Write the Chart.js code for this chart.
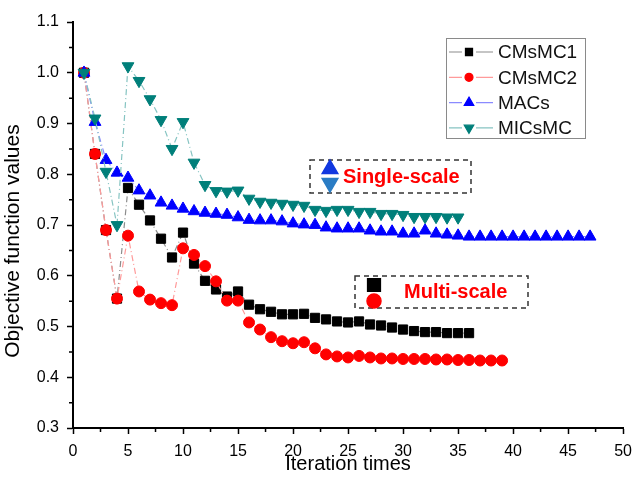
<!DOCTYPE html>
<html>
<head>
<meta charset="utf-8">
<script src="https://cdn.jsdelivr.net/npm/chart.js@4.4.1/dist/chart.umd.min.js"></script>
<style>
  html, body { margin: 0; padding: 0; background: #fff; }
</style>
</head>
<body>
<canvas id="myChart" width="640" height="481"></canvas>
<script>
// values, iteration index starts at 1
const cmsmc1 = [1.0, 0.84, 0.69, 0.555, 0.773, 0.74, 0.709, 0.673, 0.636, 0.685,
  0.624, 0.59, 0.573, 0.559, 0.569, 0.543, 0.534, 0.529, 0.524, 0.524,
  0.525, 0.517, 0.514, 0.51, 0.508, 0.51, 0.504, 0.502, 0.498, 0.494,
  0.491, 0.489, 0.489, 0.487, 0.487, 0.487];
const cmsmc2 = [1.0, 0.84, 0.69, 0.555, 0.679, 0.569, 0.553, 0.546, 0.542, 0.654,
  0.641, 0.619, 0.589, 0.551, 0.551, 0.508, 0.494, 0.479, 0.471, 0.467,
  0.469, 0.457, 0.445, 0.441, 0.439, 0.442, 0.439, 0.437, 0.437, 0.436,
  0.436, 0.436, 0.435, 0.435, 0.434, 0.434, 0.433, 0.433, 0.433];
const macs = [1.0, 0.903, 0.828, 0.803, 0.793, 0.768, 0.758, 0.744, 0.738, 0.732,
  0.727, 0.724, 0.722, 0.72, 0.715, 0.71, 0.709, 0.709, 0.707, 0.703,
  0.701, 0.7, 0.695, 0.693, 0.693, 0.693, 0.689, 0.687, 0.687, 0.683,
  0.683, 0.689, 0.683, 0.681, 0.679, 0.677, 0.677, 0.677, 0.677, 0.677,
  0.677, 0.677, 0.677, 0.677, 0.677, 0.677, 0.677];
const micsmc = [1.0, 0.91, 0.805, 0.70, 1.013, 0.984, 0.948, 0.907, 0.85, 0.903,
  0.823, 0.779, 0.767, 0.766, 0.768, 0.752, 0.746, 0.744, 0.742, 0.74,
  0.738, 0.73, 0.728, 0.73, 0.73, 0.726, 0.726, 0.722, 0.722, 0.72,
  0.716, 0.716, 0.716, 0.715, 0.715];

const seriesNames = ['CMsMC1', 'CMsMC2', 'MACs', 'MICsMC'];
const xTicks = [0, 5, 10, 15, 20, 25, 30, 35, 40, 45, 50];
const yTicks = [0.3, 0.4, 0.5, 0.6, 0.7, 0.8, 0.9, 1.0, 1.1];

const FONT = 'Arial, "Liberation Sans", sans-serif';
const dash = [6, 3, 1, 3];

const toPoints = arr => arr.map((v, i) => ({ x: i + 1, y: v }));

const styles = [
  { marker: '#000000', line: '#8c8c8c', pointStyle: 'rect', radius: 6.5, rotation: 0 },
  { marker: '#ff0000', line: '#ff9a9a', pointStyle: 'circle', radius: 5.5, rotation: 0 },
  { marker: '#0000ff', line: '#8a8aff', pointStyle: 'triangle', radius: 6.8, rotation: 0 },
  { marker: '#007f7a', line: '#86c4c2', pointStyle: 'triangle', radius: 6.8, rotation: 180 }
];
const allSeries = [cmsmc1, cmsmc2, macs, micsmc];

// extra drawing: minor ticks, y title, legend box, the two dashed notes
const decor = {
  id: 'decor',
  afterDraw(chart) {
    const ctx = chart.ctx;
    const xs = chart.scales.x, ys = chart.scales.y;
    const area = chart.chartArea;
    ctx.save();

    // minor ticks
    ctx.strokeStyle = '#000';
    ctx.lineWidth = 1.5;
    ctx.beginPath();
    for (let i = 0; i < xTicks.length - 1; i++) {
      const px = xs.getPixelForValue(xTicks[i] + 2.5);
      ctx.moveTo(px, area.bottom);
      ctx.lineTo(px, area.bottom + 4);
    }
    for (let i = 0; i < yTicks.length - 1; i++) {
      const py = ys.getPixelForValue(yTicks[i] + 0.05);
      ctx.moveTo(area.left, py);
      ctx.lineTo(area.left - 4, py);
    }
    ctx.stroke();

    // y axis title
    ctx.save();
    ctx.translate(13, 241);
    ctx.rotate(-Math.PI / 2);
    ctx.fillStyle = '#000';
    ctx.font = '21px ' + FONT;
    ctx.textAlign = 'center';
    ctx.textBaseline = 'middle';
    ctx.fillText('Objective function values', 0, 0);
    ctx.restore();

    // legend
    ctx.strokeStyle = '#8a8a8a';
    ctx.lineWidth = 1;
    ctx.strokeRect(446.5, 38.5, 139, 100);
    ctx.font = '19px ' + FONT;
    ctx.textAlign = 'left';
    ctx.textBaseline = 'middle';
    const legR = [5, 4, 5.5, 5.5];
    seriesNames.forEach((name, i) => {
      const y = 52 + i * 25.3;
      const st = styles[i];
      ctx.strokeStyle = st.line;
      ctx.lineWidth = 1.2;
      ctx.beginPath();
      ctx.moveTo(449, y); ctx.lineTo(462, y);
      ctx.moveTo(476, y); ctx.lineTo(493, y);
      ctx.stroke();
      ctx.fillStyle = st.marker;
      ctx.strokeStyle = st.marker;
      Chart.helpers.drawPoint(ctx, { pointStyle: st.pointStyle, radius: legR[i], rotation: st.rotation, borderWidth: 1 }, 469, y);
      ctx.fillStyle = '#111';
      ctx.fillText(name, 498, y + 1);
    });

    // dashed notes
    ctx.setLineDash([5, 4]);
    ctx.strokeStyle = '#333';
    ctx.lineWidth = 1.5;
    ctx.strokeRect(310, 160, 161, 33);
    ctx.strokeRect(355, 276, 173, 32);
    ctx.setLineDash([]);

    ctx.fillStyle = '#1238e0'; ctx.strokeStyle = '#1238e0';
    Chart.helpers.drawPoint(ctx, { pointStyle: 'triangle', radius: 9, rotation: 0, borderWidth: 1 }, 330, 169);
    ctx.fillStyle = '#2a7cc4'; ctx.strokeStyle = '#2a7cc4';
    Chart.helpers.drawPoint(ctx, { pointStyle: 'triangle', radius: 9, rotation: 180, borderWidth: 1 }, 330, 183);
    ctx.fillStyle = '#000'; ctx.strokeStyle = '#000';
    Chart.helpers.drawPoint(ctx, { pointStyle: 'rect', radius: 9, rotation: 0, borderWidth: 1 }, 374, 285);
    ctx.fillStyle = '#ff0000'; ctx.strokeStyle = '#ff0000';
    Chart.helpers.drawPoint(ctx, { pointStyle: 'circle', radius: 7, rotation: 0, borderWidth: 1 }, 374, 301);

    ctx.fillStyle = '#ff0000';
    ctx.font = 'bold 20px ' + FONT;
    ctx.textAlign = 'left';
    ctx.fillText('Single-scale', 343, 177);
    ctx.fillText('Multi-scale', 404, 292);
    ctx.restore();
  }
};

const ctx = document.getElementById('myChart').getContext('2d');
const myChart = new Chart(ctx, {
  type: 'line',
  data: {
    datasets: allSeries.map((arr, i) => ({
      label: seriesNames[i],
      data: toPoints(arr),
      borderColor: styles[i].line,
      borderWidth: 1.2,
      borderDash: dash,
      backgroundColor: styles[i].marker,
      pointBackgroundColor: styles[i].marker,
      pointBorderColor: styles[i].marker,
      pointBorderWidth: 1,
      pointStyle: styles[i].pointStyle,
      pointRadius: styles[i].radius,
      pointRotation: styles[i].rotation,
      tension: 0,
      fill: false,
      order: 4 - i
    }))
  },
  options: {
    responsive: false,
    animation: false,
    devicePixelRatio: 1,
    layout: { padding: { top: 22, right: 9, left: 0, bottom: 0 } },
    plugins: {
      legend: { display: false },
      tooltip: { enabled: false }
    },
    scales: {
      x: {
        type: 'linear',
        min: 0,
        max: 50,
        afterBuildTicks: s => { s.ticks = xTicks.map(v => ({ value: v })); },
        afterFit: s => { s.height = 53; },
        ticks: { color: '#000', font: { family: FONT, size: 16 }, padding: 8, maxRotation: 0 },
        grid: { drawOnChartArea: false, tickLength: 6, tickColor: '#000', tickWidth: 1.5 },
        border: { color: '#000', width: 2 },
        title: { display: true, text: 'Iteration times', color: '#000', font: { family: FONT, size: 20 }, padding: { top: 0, bottom: 5 } }
      },
      y: {
        min: 0.3,
        max: 1.1,
        afterBuildTicks: s => { s.ticks = yTicks.map(v => ({ value: v })); },
        afterFit: s => { s.width = 73; },
        ticks: { color: '#000', font: { family: FONT, size: 16 }, padding: 8, callback: v => v.toFixed(1) },
        grid: { drawOnChartArea: false, tickLength: 6, tickColor: '#000', tickWidth: 1.5 },
        border: { color: '#000', width: 2 }
      }
    }
  },
  plugins: [decor]
});
</script>
</body>
</html>
